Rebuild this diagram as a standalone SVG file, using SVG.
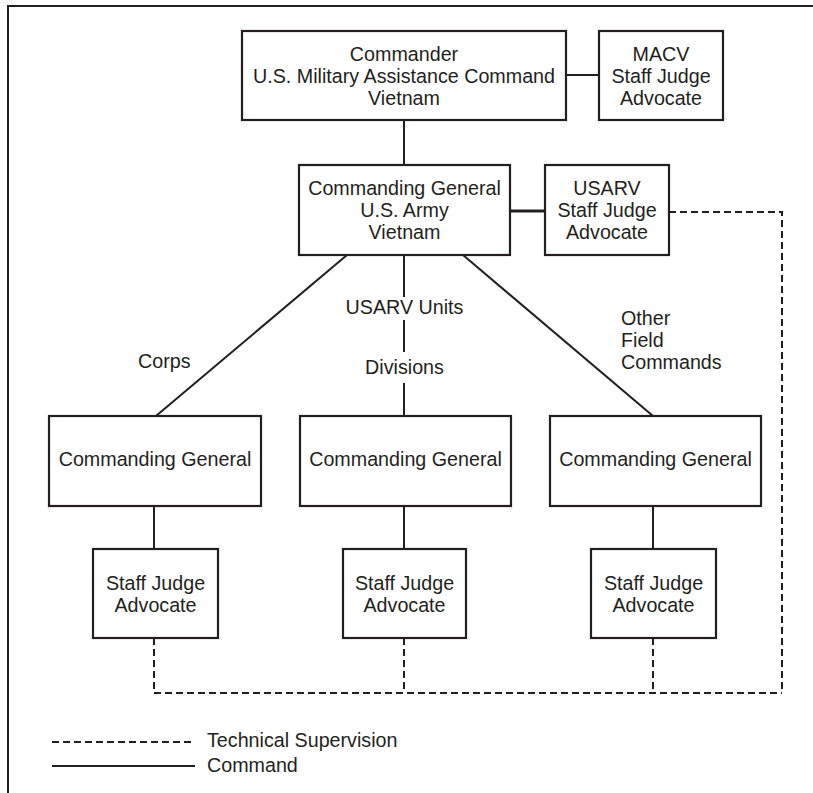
<svg xmlns="http://www.w3.org/2000/svg" width="813" height="793" viewBox="0 0 813 793">
<style>
.box{fill:#fff;stroke:#231f20;stroke-width:2.2}
.ln{fill:none;stroke:#231f20;stroke-width:2}
.dash{fill:none;stroke:#231f20;stroke-width:2;stroke-dasharray:7 4}
text{font-family:"Liberation Sans",Arial,sans-serif;font-size:19.7px;fill:#231f20}
.c{text-anchor:middle}
</style>
<rect width="813" height="793" fill="#fff"/>
<g id="frame"><path class="ln" d="M8,793 V6 H813" stroke-width="2.6"/></g>
<g id="connectors">
<line class="ln" x1="404" y1="120" x2="404" y2="165"/>
<line class="ln" x1="566" y1="75" x2="599" y2="75"/>
<line class="ln" x1="510" y1="211" x2="545" y2="211" style="stroke-width:3"/>
<line class="ln" x1="347" y1="255" x2="156" y2="416"/>
<line class="ln" x1="463" y1="255" x2="653" y2="416"/>
<line class="ln" x1="404" y1="255" x2="404" y2="297"/>
<line class="ln" x1="404" y1="320" x2="404" y2="352"/>
<line class="ln" x1="404" y1="383" x2="404" y2="416"/>
<line class="ln" x1="154" y1="506" x2="154" y2="549"/>
<line class="ln" x1="404" y1="506" x2="404" y2="549"/>
<line class="ln" x1="653" y1="506" x2="653" y2="549"/>
<path class="dash" d="M669,212 H782 V693"/>
<path class="dash" d="M154,638 V693 H782"/>
<line class="dash" x1="404" y1="638" x2="404" y2="693"/>
<line class="dash" x1="653" y1="638" x2="653" y2="693"/>
<text x="404.5" y="314" class="c">USARV Units</text>
<text x="404.5" y="374" class="c">Divisions</text>
<text x="138" y="368">Corps</text>
<text x="621" y="325">Other</text>
<text x="621" y="347">Field</text>
<text x="621" y="369">Commands</text>
</g>
<g id="macv-commander">
<rect class="box" x="242" y="31" width="324" height="89"/>
<text x="404" y="61" class="c">Commander</text>
<text x="404" y="83" class="c">U.S. Military Assistance Command</text>
<text x="404" y="105" class="c">Vietnam</text>
</g>
<g id="macv-sja">
<rect class="box" x="599" y="31" width="124" height="89"/>
<text x="661" y="61" class="c">MACV</text>
<text x="661" y="83" class="c">Staff Judge</text>
<text x="661" y="105" class="c">Advocate</text>
</g>
<g id="usarv-cg">
<rect class="box" x="299" y="165" width="211" height="90"/>
<text x="404.5" y="195" class="c">Commanding General</text>
<text x="404.5" y="217" class="c">U.S. Army</text>
<text x="404.5" y="239" class="c">Vietnam</text>
</g>
<g id="usarv-sja">
<rect class="box" x="545" y="165" width="124" height="90"/>
<text x="607" y="195" class="c">USARV</text>
<text x="607" y="217" class="c">Staff Judge</text>
<text x="607" y="239" class="c">Advocate</text>
</g>
<g id="corps-cg">
<rect class="box" x="49" y="416" width="212" height="90"/>
<text x="155" y="466" class="c">Commanding General</text>
</g>
<g id="div-cg">
<rect class="box" x="300" y="416" width="211" height="90"/>
<text x="405.5" y="466" class="c">Commanding General</text>
</g>
<g id="other-cg">
<rect class="box" x="550" y="416" width="211" height="90"/>
<text x="655.5" y="466" class="c">Commanding General</text>
</g>
<g id="corps-sja">
<rect class="box" x="93" y="549" width="125" height="89"/>
<text x="155.5" y="590" class="c">Staff Judge</text>
<text x="155.5" y="612" class="c">Advocate</text>
</g>
<g id="div-sja">
<rect class="box" x="343" y="549" width="123" height="89"/>
<text x="404.5" y="590" class="c">Staff Judge</text>
<text x="404.5" y="612" class="c">Advocate</text>
</g>
<g id="other-sja">
<rect class="box" x="591" y="549" width="125" height="89"/>
<text x="653.5" y="590" class="c">Staff Judge</text>
<text x="653.5" y="612" class="c">Advocate</text>
</g>
<g id="legend">
<line class="dash" x1="52" y1="742" x2="195" y2="742"/>
<line class="ln" x1="52" y1="766" x2="195" y2="766"/>
<text x="207" y="747">Technical Supervision</text>
<text x="207" y="772">Command</text>
</g>
</svg>
